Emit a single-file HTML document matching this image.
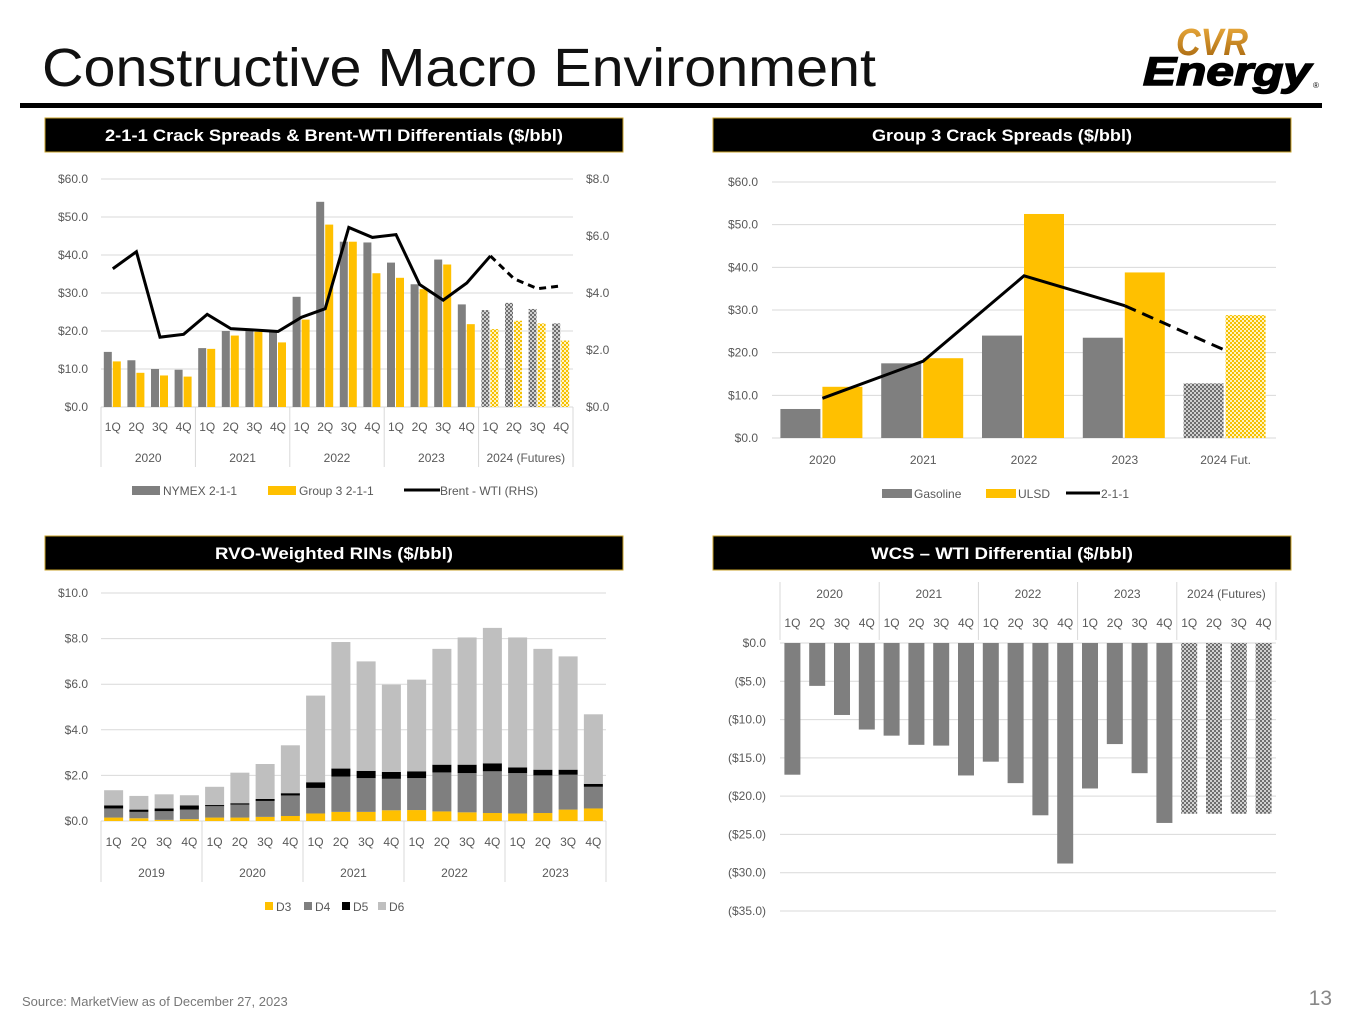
<!DOCTYPE html>
<html><head><meta charset="utf-8"><style>
body{margin:0;background:#fff;width:1365px;height:1024px;overflow:hidden;font-family:"Liberation Sans",sans-serif}
svg text{font-family:"Liberation Sans",sans-serif}
</style></head><body>
<svg id="s" width="1365" height="1024" xmlns="http://www.w3.org/2000/svg">
<defs>
<pattern id="pg" width="4" height="4" patternUnits="userSpaceOnUse"><rect width="4" height="4" fill="#d0d0d0"/><rect width="2" height="2" fill="#6e6e6e"/><rect x="2" y="2" width="2" height="2" fill="#6e6e6e"/></pattern>
<pattern id="py" width="4" height="4" patternUnits="userSpaceOnUse"><rect width="4" height="4" fill="#fff3c0"/><rect width="2" height="2" fill="#f5c000"/><rect x="2" y="2" width="2" height="2" fill="#f5c000"/></pattern>
<linearGradient id="gold" x1="0" y1="0" x2="0" y2="1"><stop offset="0" stop-color="#f0b040"/><stop offset="1" stop-color="#a0600a"/></linearGradient>
</defs>
<text x="42" y="86" font-size="54" fill="#111" textLength="834" lengthAdjust="spacingAndGlyphs">Constructive Macro Environment</text>
<g>
<text x="1176" y="55" font-size="38" font-style="italic" font-weight="bold" fill="url(#gold)" textLength="72" lengthAdjust="spacingAndGlyphs">CVR</text>
<text x="1143" y="85" font-size="40" font-style="italic" font-weight="bold" fill="#000" stroke="#000" stroke-width="1.5" textLength="168" lengthAdjust="spacingAndGlyphs">Energy</text>
<text x="1313" y="88" font-size="8" fill="#000">®</text>
</g>
<rect x="20" y="103" width="1302" height="5" fill="#000"/>
<g><rect x="45" y="118" width="578" height="34" fill="#000" stroke="#c9a227" stroke-width="1"/><text x="334" y="141" font-size="17" font-weight="bold" fill="#fff" text-anchor="middle" textLength="458" lengthAdjust="spacingAndGlyphs">2-1-1 Crack Spreads &amp; Brent-WTI Differentials ($/bbl)</text></g>
<g><rect x="713" y="118" width="578" height="34" fill="#000" stroke="#c9a227" stroke-width="1"/><text x="1002" y="141" font-size="17" font-weight="bold" fill="#fff" text-anchor="middle" textLength="260" lengthAdjust="spacingAndGlyphs">Group 3 Crack Spreads ($/bbl)</text></g>
<g><rect x="45" y="536" width="578" height="34" fill="#000" stroke="#c9a227" stroke-width="1"/><text x="334" y="559" font-size="17" font-weight="bold" fill="#fff" text-anchor="middle" textLength="238" lengthAdjust="spacingAndGlyphs">RVO-Weighted RINs ($/bbl)</text></g>
<g><rect x="713" y="536" width="578" height="34" fill="#000" stroke="#c9a227" stroke-width="1"/><text x="1002" y="559" font-size="17" font-weight="bold" fill="#fff" text-anchor="middle" textLength="262" lengthAdjust="spacingAndGlyphs">WCS – WTI Differential ($/bbl)</text></g>
<text x="22" y="1006" font-size="13" fill="#777">Source:  MarketView as of December 27, 2023</text>
<text x="1332" y="1005" font-size="21" fill="#888" text-anchor="end">13</text>
<g id="c1"></g>
<g id="c2"></g>
<g id="c3"></g>
<g id="c4"></g>
</svg>
<script>
// Chart 1 data
const quarters=["1Q","2Q","3Q","4Q"];
const c1Years=["2020","2021","2022","2023","2024 (Futures)"];
const nymex=[14.5,12.3,10,9.8,15.5,20,20.5,20,29,54,43.5,43.3,38,32.3,38.8,27,25.5,27.4,25.8,22];
const group3=[12,9,8.3,8,15.3,18.8,19.8,17,23,48,43.5,35.2,34,31,37.5,21.8,20.5,22.7,22,17.5];
const brentWti=[4.85,5.45,2.45,2.55,3.25,2.75,2.7,2.65,3.15,3.45,6.3,5.95,6.05,4.3,3.75,4.35,5.3,4.5,4.15,4.25];
const c1LeftTicks=[0,10,20,30,40,50,60];
const c1RightTicks=[0,2,4,6,8];
// Chart 2 data
const c2Cats=["2020","2021","2022","2023","2024 Fut."];
const gasoline=[6.8,17.5,24,23.5,12.8];
const ulsd=[12,18.7,52.5,38.8,28.8];
const crack211=[9.3,18,38,31,20.5];
const c2Ticks=[0,10,20,30,40,50,60];
// Chart 3 data
const c3Years=["2019","2020","2021","2022","2023"];
const d3=[0.15,0.12,0.05,0.08,0.15,0.15,0.18,0.22,0.33,0.4,0.4,0.47,0.48,0.42,0.38,0.35,0.33,0.35,0.5,0.55];
const d4=[0.4,0.28,0.38,0.42,0.5,0.57,0.7,0.9,1.12,1.55,1.48,1.38,1.4,1.71,1.72,1.83,1.77,1.65,1.53,0.95];
const d5=[0.13,0.1,0.12,0.18,0.05,0.06,0.09,0.1,0.25,0.35,0.32,0.3,0.3,0.34,0.37,0.35,0.25,0.25,0.22,0.13];
const d6=[0.67,0.6,0.62,0.45,0.8,1.34,1.53,2.1,3.8,5.55,4.8,3.83,4.02,5.08,5.58,5.94,5.7,5.3,4.97,3.05];
const c3Ticks=[0,2,4,6,8,10];
// Chart 4 data
const c4Years=["2020","2021","2022","2023","2024 (Futures)"];
const wcs=[-17.2,-5.6,-9.4,-11.3,-12.1,-13.3,-13.4,-17.3,-15.5,-18.3,-22.5,-28.8,-19,-13.2,-17,-23.5,-22.3,-22.3,-22.3,-22.3];
const c4Ticks=[0,-5,-10,-15,-20,-25,-30,-35];

const NS="http://www.w3.org/2000/svg";
function mk(p,tag,a,txt){const e=document.createElementNS(NS,tag);for(const k in a)e.setAttribute(k,a[k]);if(txt!==undefined)e.textContent=txt;p.appendChild(e);return e;}
const GRID="#d9d9d9",TXT="#595959";

// ---------- Chart 1 ----------
(function(){
const g=document.getElementById('c1');
const x0=101,x1=573,n=20,w=(x1-x0)/n;
const yL=v=>407-v*3.8, yR=v=>407-v*28.5;
c1LeftTicks.forEach(t=>{const l=mk(g,'line',{x1:x0,x2:x1,y1:yL(t),y2:yL(t),stroke:GRID});
const tx=mk(g,'text',{x:88,y:yL(t)+4,'font-size':12,fill:TXT,'text-anchor':'end'},'$'+t.toFixed(1));});
c1RightTicks.forEach(t=>{const tx=mk(g,'text',{x:586,y:yR(t)+4,'font-size':12,fill:TXT},'$'+t.toFixed(1));});
for(let i=0;i<n;i++){const cx=x0+w*(i+.5),fut=i>=16;
const b=mk(g,'rect',{x:cx-9,y:yL(nymex[i]),width:8,height:nymex[i]*3.8,fill:fut?'url(#pg)':'#7f7f7f'});
const b2=mk(g,'rect',{x:cx,y:yL(group3[i]),width:8,height:group3[i]*3.8,fill:fut?'url(#py)':'#ffc000'});
const q=mk(g,'text',{x:cx,y:431,'font-size':12,fill:TXT,'text-anchor':'middle'},quarters[i%4]);}
for(let k=0;k<=5;k++){const l=mk(g,'line',{x1:x0+k*4*w,x2:x0+k*4*w,y1:407,y2:467,stroke:GRID});}
c1Years.forEach((y,k)=>{const t=mk(g,'text',{x:x0+(k*4+2)*w,y:462,'font-size':12,fill:TXT,'text-anchor':'middle'},y);});
const pts=brentWti.map((v,i)=>[x0+w*(i+.5),yR(v)]);
const solid=mk(g,'polyline',{points:pts.slice(0,17).join(' '),fill:'none',stroke:'#000','stroke-width':3});
const dash=mk(g,'polyline',{points:pts.slice(16).join(' '),fill:'none',stroke:'#000','stroke-width':3,'stroke-dasharray':'7 5'});
const L=[[132,'rect','#7f7f7f','NYMEX 2-1-1'],[268,'rect','#ffc000','Group 3 2-1-1'],[404,'line','#000','Brent - WTI (RHS)']];
L.forEach(([x,t,c,s])=>{const e=mk(g,'g',{});
if(t=='rect')mk(e,'rect',{x:x,y:486,width:28,height:9,fill:c});else mk(e,'line',{x1:x,x2:x+36,y1:490,y2:490,stroke:c,'stroke-width':3});
mk(e,'text',{x:x+(t=='rect'?31:36),y:495,'font-size':12,fill:TXT},s);});
})();

// ---------- Chart 2 ----------
(function(){
const g=document.getElementById('c2');
const x0=772,x1=1276,n=5,w=(x1-x0)/n;
const y=v=>438-v*4.267;
c2Ticks.forEach(t=>{const l=mk(g,'line',{x1:x0,x2:x1,y1:y(t),y2:y(t),stroke:GRID});
const tx=mk(g,'text',{x:758,y:y(t)+4,'font-size':12,fill:TXT,'text-anchor':'end'},'$'+t.toFixed(1));});
for(let i=0;i<n;i++){const cx=x0+w*(i+.5),fut=i==4;
const b=mk(g,'rect',{x:cx-42,y:y(gasoline[i]),width:40,height:gasoline[i]*4.267,fill:fut?'url(#pg)':'#7f7f7f'});
const b2=mk(g,'rect',{x:cx,y:y(ulsd[i]),width:40,height:ulsd[i]*4.267,fill:fut?'url(#py)':'#ffc000'});
const t=mk(g,'text',{x:cx,y:464,'font-size':12,fill:TXT,'text-anchor':'middle'},c2Cats[i]);}
const pts=crack211.map((v,i)=>[x0+w*(i+.5),y(v)]);
const s=mk(g,'polyline',{points:pts.slice(0,4).join(' '),fill:'none',stroke:'#000','stroke-width':3});
const d=mk(g,'polyline',{points:pts.slice(3).join(' '),fill:'none',stroke:'#000','stroke-width':3,'stroke-dasharray':'12 7'});
const L=[[882,'rect','#7f7f7f','Gasoline'],[986,'rect','#ffc000','ULSD'],[1066,'line','#000','2-1-1']];
L.forEach(([x,t,c,s2])=>{const e=mk(g,'g',{});
if(t=='rect')mk(e,'rect',{x:x,y:489,width:30,height:9,fill:c});else mk(e,'line',{x1:x,x2:x+34,y1:493,y2:493,stroke:c,'stroke-width':3});
mk(e,'text',{x:x+(t=='rect'?32:35),y:498,'font-size':12,fill:TXT},s2);});
})();

// ---------- Chart 3 ----------
(function(){
const g=document.getElementById('c3');
const x0=101,x1=606,n=20,w=(x1-x0)/n,k=22.8;
const y=v=>821-v*k;
c3Ticks.forEach(t=>{const l=mk(g,'line',{x1:x0,x2:x1,y1:y(t),y2:y(t),stroke:GRID});
const tx=mk(g,'text',{x:88,y:y(t)+4,'font-size':12,fill:TXT,'text-anchor':'end'},'$'+t.toFixed(1));});
const series=[[d3,'#ffc000','bar-d3'],[d4,'#7f7f7f','bar-d4'],[d5,'#000','bar-d5'],[d6,'#bfbfbf','bar-d6']];
for(let i=0;i<n;i++){const cx=x0+w*(i+.5);let base=0;
series.forEach(([arr,c,nm])=>{const r=mk(g,'rect',{x:cx-9.5,y:y(base+arr[i]),width:19,height:arr[i]*k,fill:c});base+=arr[i];});
const q=mk(g,'text',{x:cx,y:846,'font-size':12,fill:TXT,'text-anchor':'middle'},quarters[i%4]);}
for(let j=0;j<=5;j++){const l=mk(g,'line',{x1:x0+j*4*w,x2:x0+j*4*w,y1:821,y2:882,stroke:GRID});}
c3Years.forEach((yy,j)=>{const t=mk(g,'text',{x:x0+(j*4+2)*w,y:877,'font-size':12,fill:TXT,'text-anchor':'middle'},yy);});
[[265,'#ffc000','D3'],[304,'#7f7f7f','D4'],[342,'#000','D5'],[378,'#bfbfbf','D6']].forEach(([x,c,s])=>{const e=mk(g,'g',{});
mk(e,'rect',{x:x,y:902,width:8,height:8,fill:c});mk(e,'text',{x:x+11,y:911,'font-size':12,fill:TXT},s);});
})();

// ---------- Chart 4 ----------
(function(){
const g=document.getElementById('c4');
const x0=780,x1=1276,n=20,w=(x1-x0)/n,k=7.657;
const y=v=>643-v*k;
c4Ticks.forEach(t=>{const l=mk(g,'line',{x1:x0,x2:x1,y1:y(t),y2:y(t),stroke:GRID});
const lab=t==0?'$0.0':'($'+Math.abs(t).toFixed(1)+')';
const tx=mk(g,'text',{x:766,y:y(t)+4,'font-size':12,fill:TXT,'text-anchor':'end'},lab);});
for(let i=0;i<n;i++){const cx=x0+w*(i+.5),fut=i>=16;
const r=mk(g,'rect',{x:cx-8,y:643,width:16,height:-wcs[i]*k,fill:fut?'url(#pg)':'#7f7f7f'});
const q=mk(g,'text',{x:cx,y:627,'font-size':12,fill:TXT,'text-anchor':'middle'},quarters[i%4]);}
for(let j=0;j<=5;j++){const l=mk(g,'line',{x1:x0+j*4*w,x2:x0+j*4*w,y1:582,y2:640,stroke:GRID});}
c4Years.forEach((yy,j)=>{const t=mk(g,'text',{x:x0+(j*4+2)*w,y:598,'font-size':12,fill:TXT,'text-anchor':'middle'},yy);});
})();
</script>
</body></html>
